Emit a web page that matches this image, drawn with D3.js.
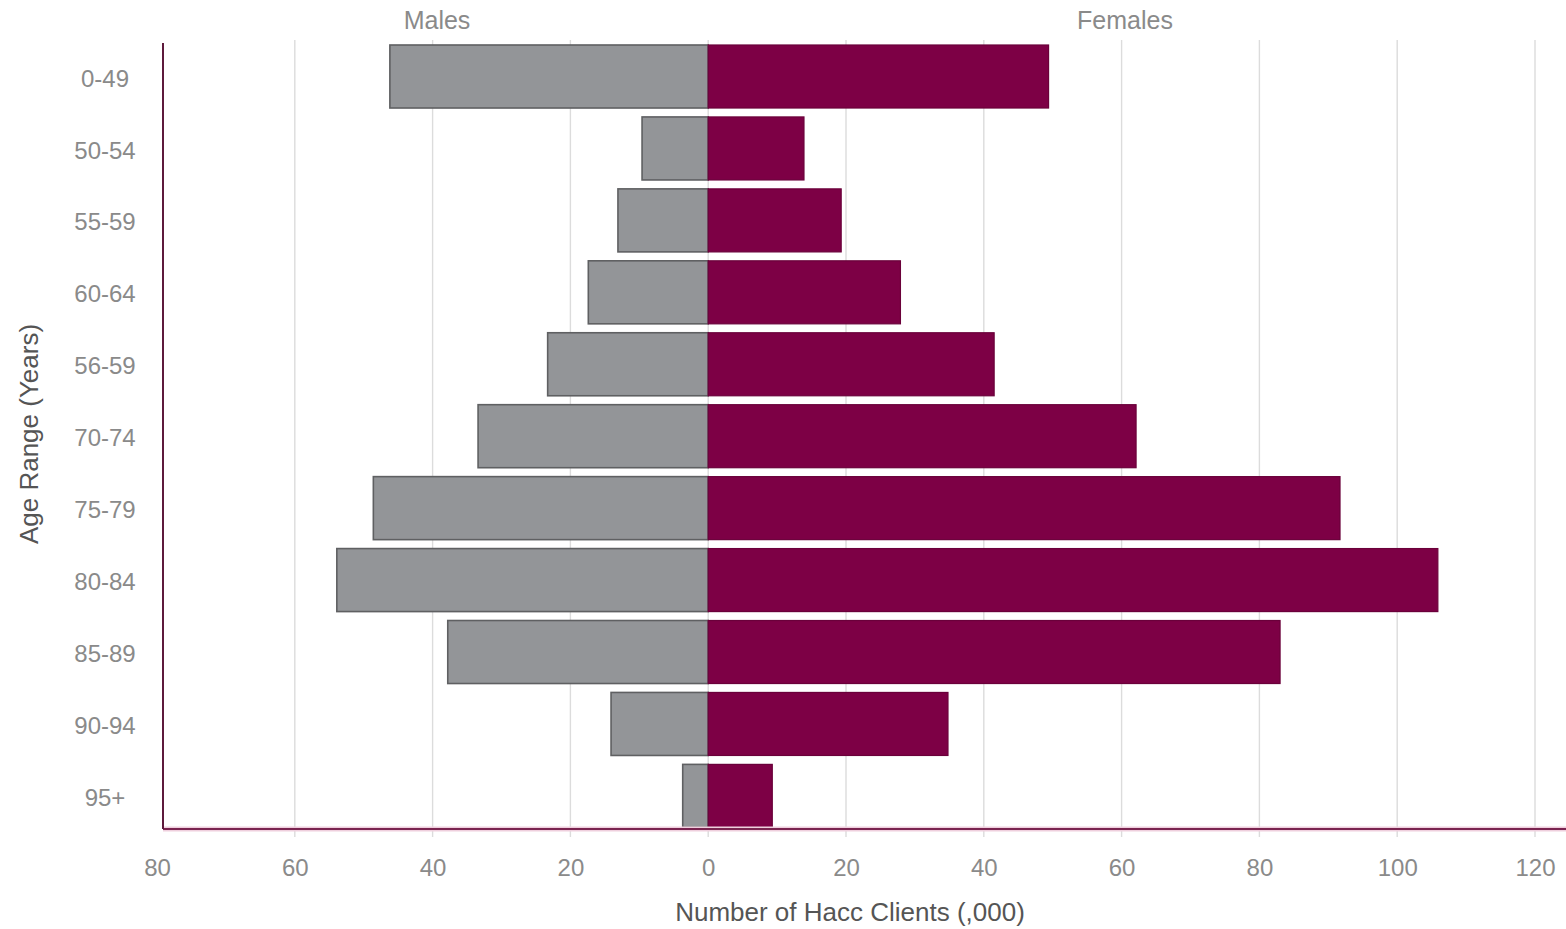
<!DOCTYPE html>
<html>
<head>
<meta charset="utf-8">
<script src="https://cdn.jsdelivr.net/npm/d3@7"></script>
<style>
  html, body { margin: 0; padding: 0; background: #ffffff; }
  svg { display: block; font-family: "Liberation Sans", Arial, Helvetica, sans-serif; }
</style>
</head>
<body>
<svg id="chart" width="1566" height="929"></svg>
<script>
// Age groups, top to bottom
const ageGroups = ["0-49", "50-54", "55-59", "60-64", "56-59", "70-74", "75-79", "80-84", "85-89", "90-94", "95+"];
// HACC clients by sex, thousands
const males   = [46.2, 9.6, 13.1, 17.4, 23.3, 33.4, 48.6, 53.9, 37.8, 14.1, 3.7];
const females = [49.4, 13.9, 19.3, 27.9, 41.5, 62.1, 91.7, 105.9, 83.0, 34.8, 9.3];
// Axis tick values (males shown to the left as negative values)
const xTicks = [-80, -60, -40, -20, 0, 20, 40, 60, 80, 100, 120];

const svg = d3.select("#chart");

const x = d3.scaleLinear().domain([-80, 120]).range([157, 1535]);
const y = d3.scaleBand().domain(ageGroups).range([41.4, 831]).paddingInner(0.124).paddingOuter(0.05);

const axisY = 829;     // baseline of the horizontal axis
const frameX = 163;    // left frame line
const gridTop = 40;

// Vertical gridlines
svg.append("g").attr("class", "grid")
  .selectAll("line")
  .data(xTicks.filter(d => d !== -80))
  .join("line")
  .attr("x1", d => x(d)).attr("x2", d => x(d))
  .attr("y1", gridTop).attr("y2", axisY + 8)
  .attr("stroke", "#dcdcdc").attr("stroke-width", 1.4);

// Bars: males to the left of zero, females to the right
const rows = ageGroups.map((g, i) => ({ group: g, m: males[i], f: females[i] }));

svg.append("g").selectAll("rect")
  .data(rows).join("rect")
  .attr("x", d => x(-d.m))
  .attr("y", d => y(d.group))
  .attr("width", d => x(0) - x(-d.m))
  .attr("height", y.bandwidth())
  .attr("fill", "#939598")
  .attr("stroke", "#5f6062").attr("stroke-width", 1.6);

svg.append("g").selectAll("rect")
  .data(rows).join("rect")
  .attr("x", x(0))
  .attr("y", d => y(d.group))
  .attr("width", d => x(d.f) - x(0))
  .attr("height", y.bandwidth())
  .attr("fill", "#7d0045")
  .attr("stroke", "#6a003a").attr("stroke-width", 1.2);

// Frame lines (left and bottom) with a soft halo
svg.append("line")
  .attr("x1", frameX).attr("x2", 1566).attr("y1", axisY).attr("y2", axisY)
  .attr("stroke", "#efcfdd").attr("stroke-width", 5);
svg.append("line")
  .attr("x1", frameX).attr("x2", 1566).attr("y1", axisY).attr("y2", axisY)
  .attr("stroke", "#7a2450").attr("stroke-width", 2);
svg.append("line")
  .attr("x1", frameX).attr("x2", frameX).attr("y1", 43).attr("y2", axisY)
  .attr("stroke", "#5e1a3c").attr("stroke-width", 2);

// Bottom tick labels
const xAxis = d3.axisBottom(x)
  .tickValues(xTicks)
  .tickFormat(d => Math.abs(d))
  .tickSize(0)
  .tickPadding(30);
const gx = svg.append("g").attr("transform", `translate(0,${axisY})`).call(xAxis);
gx.select(".domain").remove();
gx.selectAll("text")
  .attr("font-size", 24)
  .attr("font-family", "\"Liberation Sans\", Arial, sans-serif")
  .attr("fill", "#8a8a8a");

// Left category labels
const yAxis = d3.axisLeft(y).tickSize(0).tickPadding(0);
const gy = svg.append("g").attr("transform", "translate(105,0)").call(yAxis);
gy.select(".domain").remove();
gy.selectAll("text")
  .attr("text-anchor", "middle")
  .attr("x", 0)
  .attr("dy", "0.42em")
  .attr("font-size", 24)
  .attr("font-family", "\"Liberation Sans\", Arial, sans-serif")
  .attr("fill", "#8a8a8a");

// Series headings
svg.append("text").attr("x", 437).attr("y", 29).attr("text-anchor", "middle")
  .attr("font-size", 25).attr("fill", "#8a8a8a").text("Males");
svg.append("text").attr("x", 1125).attr("y", 29).attr("text-anchor", "middle")
  .attr("font-size", 25).attr("fill", "#8a8a8a").text("Females");

// Axis titles
svg.append("text").attr("x", 850).attr("y", 921).attr("text-anchor", "middle")
  .attr("font-size", 26).attr("fill", "#555555").text("Number of Hacc Clients (,000)");
svg.append("text")
  .attr("transform", "translate(38,434) rotate(-90)")
  .attr("text-anchor", "middle")
  .attr("font-size", 26).attr("fill", "#555555").text("Age Range (Years)");
</script>
</body>
</html>
